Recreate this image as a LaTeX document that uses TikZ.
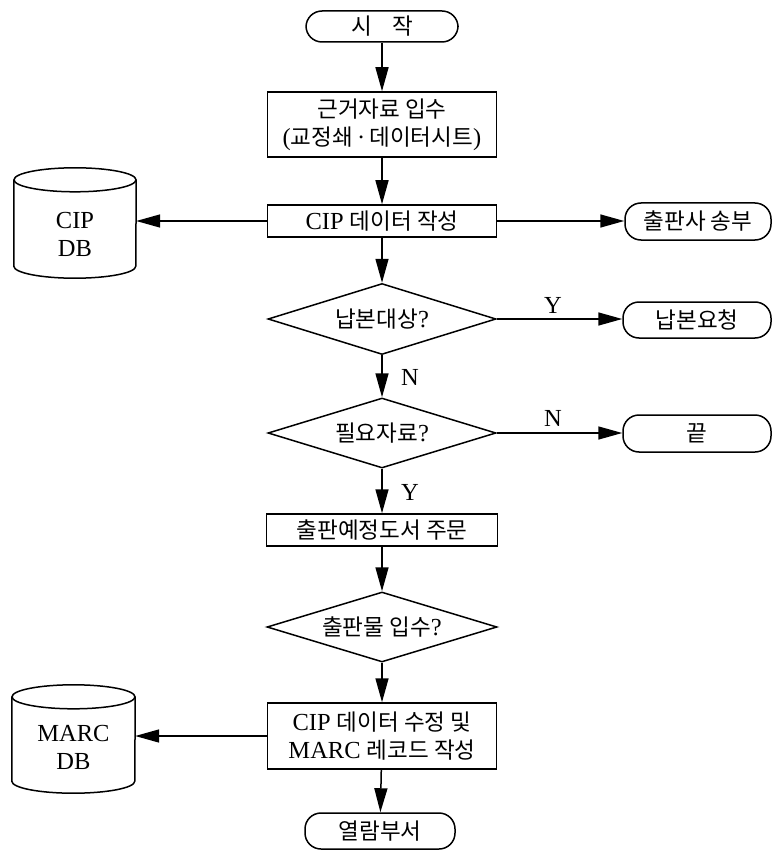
\documentclass[tikz,border=0pt]{standalone}
\usepackage{fontspec}
\setmainfont{Liberation Serif}
\newfontfamily\kr{Noto Sans CJK KR}[Scale=0.92]
\newcommand\K[1]{{\kr #1}}
\usetikzlibrary{shapes.geometric,arrows.meta}
\tikzset{
  base/.style={draw, line width=1.5pt, inner sep=0pt, align=center},
  term/.style={base, rectangle, rounded corners=16pt, minimum width=150pt, minimum height=36pt},
  proc/.style={base, rectangle, minimum width=229pt, minimum height=32pt},
  dec/.style={base, diamond, aspect=3.2, minimum width=228pt, minimum height=71pt},
  dbbox/.style={rectangle, inner sep=0pt},
  dbtext/.style={align=center, inner sep=0pt},
  lbl/.style={inner sep=0pt},
  arr/.style={line width=1.5pt, -{Triangle[length=24pt,width=13pt]}}
}
\begin{document}
\begin{tikzpicture}[x=1pt,y=-1pt,font=\fontsize{24.5}{28}\selectfont]
\useasboundingbox (0,0) rectangle (772,850);

% main column
\node[term, minimum width=152pt, minimum height=31pt] (start) at (382,26.5) {\K{시\hspace{0.9em}작}};
\node[proc, minimum height=65pt] (box1) at (382,124.5) {\K{근거자료 입수}\\(\K{교정쇄}\,·\,\K{데이터시트})};
\node[proc] (cip) at (382,221) {CIP \K{데이터 작성}};
\node[dec] (d1) at (382,319) {\K{납본대상}?};
\node[dec, minimum height=70pt] (d2) at (382,433) {\K{필요자료}?};
\node[proc, minimum width=231pt] (box3) at (382,530) {\K{출판예정도서 주문}};
\node[dec, minimum width=230pt, minimum height=70pt] (d3) at (382,627) {\K{출판물 입수}?};
\node[proc, minimum height=66pt] (box4) at (382,736) {CIP \K{데이터 수정 및}\\MARC \K{레코드 작성}};
\node[term] (view) at (380,831) {\K{열람부서}};

% right terminals
\node[term, minimum width=146pt, minimum height=37pt] (pub) at (698,221.5) {\K{출판사 송부}};
\node[term, minimum width=148pt] (req) at (697,320) {\K{납본요청}};
\node[term, minimum width=148pt, minimum height=37pt] (end) at (697,433.5) {\K{끝}};

% databases
\node[dbbox, minimum width=122pt, minimum height=110pt] (cipdb) at (75,223) {};
\draw[line width=1.5pt] ([yshift=-12pt]cipdb.north west) -- ([yshift=12pt]cipdb.south west)
  arc[start angle=180, end angle=360, x radius=61pt, y radius=12pt]
  -- ([yshift=-12pt]cipdb.north east);
\draw[line width=1.5pt] ([yshift=-12pt]cipdb.north) ellipse [x radius=61pt, y radius=12pt];
\node[dbtext] (cipdbt) at (75,234) {CIP\\DB};

\node[dbbox, minimum width=123pt, minimum height=108pt] (marcdb) at (73.5,739) {};
\draw[line width=1.5pt] ([yshift=-12pt]marcdb.north west) -- ([yshift=12pt]marcdb.south west)
  arc[start angle=180, end angle=360, x radius=61.5pt, y radius=12pt]
  -- ([yshift=-12pt]marcdb.north east);
\draw[line width=1.5pt] ([yshift=-12pt]marcdb.north) ellipse [x radius=61.5pt, y radius=12pt];
\node[dbtext] (marcdbt) at (73.5,747) {MARC\\DB};

% connectors
\draw[arr] (start) -- (box1);
\draw[arr] (box1) -- (cip);
\draw[arr] (cip.west) -- (cip.west -| cipdb.east);
\draw[arr] (cip.east) -- (cip.east -| pub.west);
\draw[arr] (cip) -- (d1);
\draw[arr] (d1.east) -- (d1.east -| req.west);
\draw[arr] (d1) -- (d2);
\draw[arr] (d2.east) -- (d2.east -| end.west);
\draw[arr] (d2) -- (box3);
\draw[arr] (box3) -- (d3);
\draw[arr] (d3) -- (box4);
\draw[arr] (box4.west) -- (box4.west -| marcdb.east);
\draw[arr] (box4) -- (view);

% labels
\node[lbl] (ly1) at (553,305) {Y};
\node[lbl] (ln1) at (410,377) {N};
\node[lbl] (ln2) at (553,418) {N};
\node[lbl] (ly2) at (410,492) {Y};
\end{tikzpicture}
\end{document}
